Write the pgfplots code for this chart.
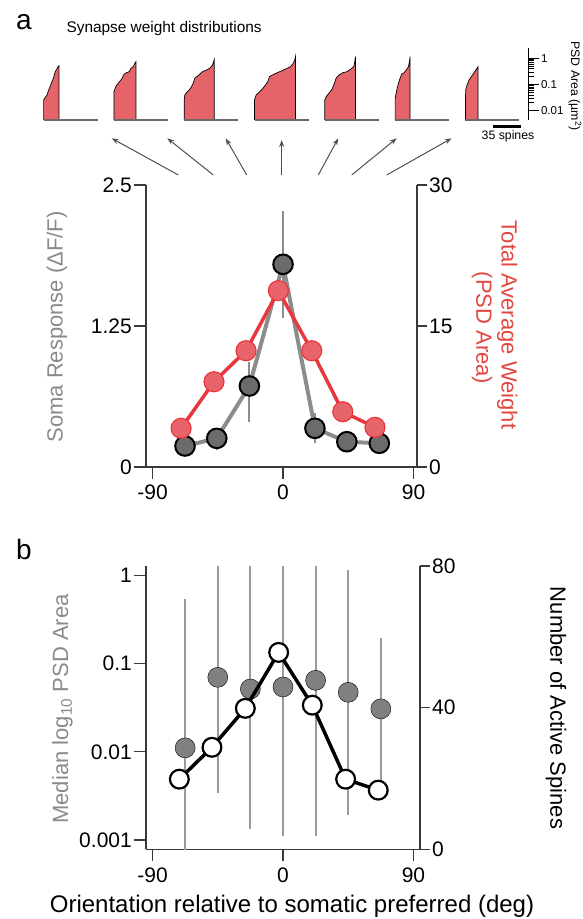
\documentclass[border=0pt]{standalone}
\usepackage{pgfplots}
\pgfplotsset{compat=1.18}
\usepackage{fontspec}
\setmainfont{Liberation Sans}
\usetikzlibrary{arrows.meta}
\definecolor{axisCol}{HTML}{3A3A3A}
\definecolor{grayLine}{HTML}{8C8C8C}
\definecolor{grayMark}{HTML}{6B6B6B}
\definecolor{redLine}{HTML}{E8383D}
\definecolor{redMark}{HTML}{E8646B}
\definecolor{miniRed}{HTML}{E5646A}
\definecolor{baseGray}{HTML}{6A6A6A}
\definecolor{grayText}{HTML}{8A8A8A}
\definecolor{redText}{HTML}{E2463F}
\definecolor{dotGray}{HTML}{808080}
\definecolor{barGray}{HTML}{9A9A9A}
\definecolor{arrowCol}{HTML}{505050}
\pgfplotsset{
  base/.style={scale only axis, anchor=south west, axis line style={axisCol, line width=1.3pt},
    tick style={axisCol, line width=1.3pt}, tick align=outside, major tick length=12pt,
    ticklabel style={font=\fontsize{21}{24}\selectfont, inner sep=2pt, text=black},
    xticklabel style={yshift=-4pt}},
  mini/.style={scale only axis, anchor=south west, width=54pt, height=72.3pt, xmin=0, xmax=66.7,
    ymin=-2.355, ymax=0.405, hide axis, clip=false},
  minifill/.style={fill=miniRed, draw=black, line width=0.7pt},
  minibase/.style={baseGray, line width=2.2pt},
}
\begin{document}
\begin{tikzpicture}
\path[use as bounding box] (0pt,0pt) rectangle (583pt,919pt);

% ---------- mini distributions
\begin{axis}[mini, at={(43.6pt,799pt)}]
\addplot[minifill] coordinates {(0,-2.355)(0,-1.59)(1,-1.55)(2.5,-1.47)(4.2,-1.40)(6.2,-1.21)(8,-1.08)(10.4,-0.89)(12.5,-0.72)(14.4,-0.51)(16.5,-0.40)(17.8,-0.32)(19,-0.29)(19,-2.355)};
\addplot[minibase] coordinates {(0,-2.355)(66.7,-2.355)};
\end{axis}
\begin{axis}[mini, at={(113.9pt,799pt)}]
\addplot[minifill] coordinates {(0,-2.355)(0,-1.27)(2.5,-1.08)(5.3,-0.95)(9.4,-0.80)(12.7,-0.60)(15.6,-0.55)(18.9,-0.51)(21,-0.38)(23.9,-0.32)(25.9,-0.19)(27.2,-0.13)(27.2,-2.355)};
\addplot[minibase] coordinates {(0,-2.355)(66.7,-2.355)};
\end{axis}
\begin{axis}[mini, at={(184.2pt,799pt)}]
\addplot[minifill] coordinates {(0,-2.355)(0,-1.59)(0.8,-1.40)(2.9,-1.31)(6.2,-1.21)(9.1,-1.08)(11.1,-0.95)(13.2,-0.76)(16.5,-0.68)(19.3,-0.60)(22.6,-0.51)(27.5,-0.45)(31.6,-0.38)(34.9,-0.26)(37,-0.06)(37,-2.355)};
\addplot[minibase] coordinates {(0,-2.355)(66.7,-2.355)};
\end{axis}
\begin{axis}[mini, at={(254.5pt,799pt)}]
\addplot[minifill] coordinates {(0,-2.355)(0,-1.59)(2,-1.40)(5.4,-1.31)(9.5,-1.18)(13.6,-1.02)(16.5,-0.89)(18.5,-0.70)(21.8,-0.64)(28,-0.55)(34.2,-0.47)(40.3,-0.38)(44.4,-0.32)(47.3,-0.22)(49.8,-0.06)(50.6,0.06)(50.6,-2.355)};
\addplot[minibase] coordinates {(0,-2.355)(66.7,-2.355)};
\end{axis}
\begin{axis}[mini, at={(324.8pt,799pt)}]
\addplot[minifill] coordinates {(0,-2.355)(0,-1.59)(1.6,-1.47)(4.9,-1.34)(9,-1.18)(11.9,-0.95)(14,-0.76)(17.3,-0.64)(22.2,-0.55)(27.6,-0.51)(31.7,-0.42)(35.8,-0.32)(37,-0.13)(37.9,0.06)(37.9,-2.355)};
\addplot[minibase] coordinates {(0,-2.355)(66.7,-2.355)};
\end{axis}
\begin{axis}[mini, at={(395.1pt,799pt)}]
\addplot[minifill] coordinates {(0,-2.355)(0,-1.53)(2.1,-1.21)(4.1,-0.95)(6.2,-0.76)(8.2,-0.60)(11.1,-0.55)(14.4,-0.42)(16.5,-0.32)(17.7,-0.13)(18.5,0.06)(18.5,-2.355)};
\addplot[minibase] coordinates {(0,-2.355)(66.7,-2.355)};
\end{axis}
\begin{axis}[mini, at={(465.4pt,799pt)}]
\addplot[minifill] coordinates {(0,-2.355)(0,-1.59)(0.4,-1.21)(2,-1.02)(4.5,-0.83)(7.4,-0.70)(10.3,-0.57)(12.8,-0.45)(14.4,-0.38)(15.6,-0.32)(15.6,-2.355)};
\addplot[minibase] coordinates {(0,-2.355)(66.7,-2.355)};
\end{axis}

% PSD area scale
\begin{axis}[scale only axis, anchor=south west, at={(527.8pt,799pt)}, width=0.5pt, height=72.3pt,
  xmin=0, xmax=1, ymode=log, ymin=0.00442, ymax=2.54,
  axis x line=none, axis y line*=right,
  axis line style={black, line width=0.8pt}, tick style={black, line width=0.7pt},
  tick align=outside, major tick length=11pt, minor tick length=6pt,
  ytick={0.01,0.1,1}, yticklabels={0.01,0.1,1},
  yticklabel style={font=\fontsize{11.5}{13}\selectfont, inner sep=1.5pt}]
\addplot[draw=none] coordinates {(0,0.01)(1,1)};
\end{axis}

% ---------- panel a
\begin{axis}[base, at={(146pt,452pt)}, width=271pt, height=282pt,
  xmin=-94.5, xmax=92.4, ymin=0, ymax=2.5,
  axis y line*=left, axis x line*=bottom,
  xtick={-90,0,90}, xticklabels={-90,0,90},
  ytick={0,1.25,2.5}, yticklabels={0,1.25,2.5}]
\addplot[grayLine, line width=2pt] coordinates {(0,1.32)(0,2.27)};
\addplot[grayLine, line width=2pt] coordinates {(-23.2,0.40)(-23.2,0.93)};
\addplot[grayLine, line width=2pt] coordinates {(22,0.21)(22,0.48)};
\addplot[grayLine, line width=2pt] coordinates {(-45.7,0.15)(-45.7,0.33)};
\addplot[grayLine, line width=2pt] coordinates {(-67.6,0.12)(-67.6,0.25)};
\addplot[grayLine, line width=4pt] coordinates {(-67.6,0.186)(-45.7,0.254)(-23.2,0.718)(0,1.797)(22,0.343)(44,0.224)(66.4,0.21)};
\addplot[only marks, mark=*, mark size=9.8pt, mark options={fill=grayMark, draw=black, line width=2pt}]
  coordinates {(-67.6,0.186)(-45.7,0.254)(-23.2,0.718)(0,1.797)(22,0.343)(44,0.224)(66.4,0.21)};
\end{axis}
\begin{axis}[base, at={(146pt,452pt)}, width=271pt, height=282pt,
  xmin=-94.5, xmax=92.4, ymin=0, ymax=30,
  axis y line*=right, axis x line=none, major tick length=10pt,
  ytick={0,15,30}, yticklabels={0,15,30}]
\addplot[redLine, line width=3.5pt, mark=*, mark size=10pt, mark options={fill=redMark, draw=redLine, line width=1.2pt}]
  coordinates {(-70.3,4.12)(-47.6,9.07)(-25.5,12.37)(-3.2,18.76)(19.8,12.37)(41.2,5.88)(63.4,4.22)};
\end{axis}

% ---------- panel b
\begin{axis}[base, at={(146pt,69.7pt)}, width=274pt, height=283.3pt,
  xmin=-94.5, xmax=94.5, ymode=log, ymin=0.000785, ymax=1.28, yminorticks=false,
  axis y line*=left, axis x line*=bottom,
  xtick={-90,0,90}, xticklabels={-90,0,90},
  ytick={0.001,0.01,0.1,1}, yticklabels={0.001,0.01,0.1,1}]
\addplot[barGray, line width=2pt] coordinates {(-67.5,0.0005)(-67.5,0.54)};
\addplot[barGray, line width=2pt] coordinates {(-45,0.0034)(-45,1.5)};
\addplot[barGray, line width=2pt] coordinates {(-22.5,0.00135)(-22.5,1.5)};
\addplot[barGray, line width=2pt] coordinates {(0,0.0011)(0,1.5)};
\addplot[barGray, line width=2pt] coordinates {(22.5,0.0011)(22.5,1.5)};
\addplot[barGray, line width=2pt] coordinates {(45,0.00194)(45,1.14)};
\addplot[barGray, line width=2pt] coordinates {(67.5,0.0034)(67.5,0.195)};
\addplot[only marks, mark=*, mark size=10pt, mark options={fill=dotGray, draw=none}]
  coordinates {(-67.5,0.0111)(-45,0.070)(-22.5,0.0516)(0,0.0544)(22.5,0.0647)(45,0.0473)(67.5,0.0307)};
\end{axis}
\begin{axis}[base, at={(146pt,69.7pt)}, width=274pt, height=283.3pt,
  xmin=-94.5, xmax=94.5, ymin=0, ymax=80,
  axis y line*=right, axis x line=none, major tick length=10pt,
  ytick={0,40,80}, yticklabels={0,40,80}]
\addplot[black, line width=3.5pt, mark=*, mark size=9.4pt, mark options={fill=white, draw=black, line width=2.2pt}]
  coordinates {(-71.5,19.8)(-49,28.8)(-26,39.8)(-3,55.6)(20.2,40.7)(43.2,19.8)(65.7,16.7)};
\end{axis}

\begin{scope}[x=1pt,y=1pt]
% panel letters and title
\node[font=\fontsize{28}{30}\selectfont] at (24,897) {a};
\node[font=\fontsize{28}{30}\selectfont] at (24,370) {b};
\node[anchor=west, font=\fontsize{15.4}{17}\selectfont] at (63,890) {Synapse weight distributions};
% scale annotations
\node[rotate=-90, font=\fontsize{12.3}{14}\selectfont] at (575,833) {PSD Area (µm\textsuperscript{2})};
\draw[black, line width=2.5pt] (492.7,792.5) -- (521,792.5);
\node[font=\fontsize{12.3}{14}\selectfont] at (508,782.3) {35 spines};
% arrows
\begin{scope}[arrowCol, line width=1pt, -{Stealth[length=7pt,width=5pt]}]
\draw (178.3,744) -- (111.7,780.7);
\draw (213.3,744) -- (167.3,780.7);
\draw (246.7,744) -- (225.7,780.7);
\draw (281.7,744) -- (281.7,779);
\draw (318.3,744) -- (338.3,780.7);
\draw (351.7,744) -- (396.7,780.7);
\draw (386.7,744) -- (451.7,780.7);
\end{scope}
% axis titles
\node[rotate=90, text=grayText, font=\fontsize{22}{24}\selectfont] at (57,592) {Soma Response (ΔF/F)};
\node[rotate=-90, text=redText, font=\fontsize{22}{24}\selectfont] at (507.4,594) {Total Average Weight};
\node[rotate=-90, text=redText, font=\fontsize{22}{24}\selectfont] at (482,591) {(PSD Area)};
\node[rotate=90, text=grayText, font=\fontsize{22}{24}\selectfont] at (62.5,210) {Median log\textsubscript{10} PSD Area};
\node[rotate=-90, text=black, font=\fontsize{22}{24}\selectfont] at (556,211) {Number of Active Spines};
\node[font=\fontsize{24}{26}\selectfont] at (292,13) {Orientation relative to somatic preferred (deg)};
\end{scope}
\end{tikzpicture}
\end{document}
